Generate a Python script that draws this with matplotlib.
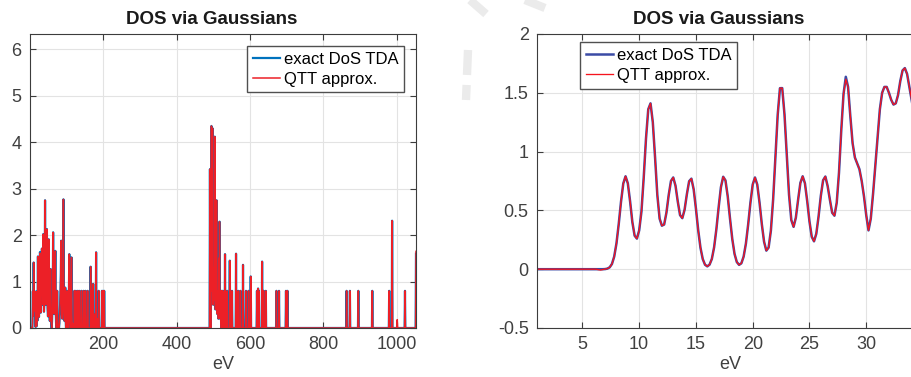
import numpy as np
import matplotlib
matplotlib.use("Agg")
import matplotlib.pyplot as plt
from matplotlib.lines import Line2D

# Colours
EXACT_LEFT = "#0072BD"
QTT_LEFT = "#EC2027"
EXACT_RIGHT = "#3B4BA5"
QTT_RIGHT = "#F5141E"
GRID_COLOR = "#E3E3E3"
AXIS_COLOR = "#3C3C3C"
TEXT_COLOR = "#404040"

FONT = "Liberation Sans"
DPI = 100

# DOS on the fine grid (1 .. 35 eV, 0.2 eV step)
fine_ev = np.round(np.arange(1.0, 35.01, 0.2), 1)
dos_exact_fine = [0.0] * 30 + [
    0.001, 0.005, 0.016, 0.044, 0.107, 0.220, 0.385, 0.574, 0.729, 0.790,
    0.730, 0.577, 0.400, 0.285, 0.260, 0.330, 0.490, 0.780, 1.110, 1.360,
    1.410, 1.250, 0.950, 0.630, 0.430, 0.370, 0.380, 0.480, 0.630, 0.750,
    0.780, 0.710, 0.575, 0.460, 0.434, 0.506, 0.637, 0.748, 0.770, 0.679,
    0.514, 0.331, 0.182, 0.086, 0.038, 0.024, 0.039, 0.087, 0.186, 0.340,
    0.527, 0.697, 0.786, 0.755, 0.619, 0.431, 0.257, 0.130, 0.061, 0.037,
    0.050, 0.107, 0.217, 0.380, 0.566, 0.720, 0.780, 0.720, 0.567, 0.385,
    0.234, 0.158, 0.184, 0.327, 0.594, 0.953, 1.311, 1.539, 1.540, 1.316,
    0.969, 0.633, 0.418, 0.360, 0.438, 0.591, 0.734, 0.790, 0.731, 0.580,
    0.406, 0.276, 0.237, 0.301, 0.447, 0.624, 0.756, 0.788, 0.707, 0.590,
    0.480, 0.455, 0.565, 0.820, 1.180, 1.490, 1.636, 1.550, 1.300, 1.070,
    0.950, 0.900, 0.850, 0.750, 0.620, 0.460, 0.330, 0.430, 0.640, 0.880,
    1.130, 1.360, 1.500, 1.550, 1.550, 1.500, 1.440, 1.400, 1.410, 1.480,
    1.600, 1.690, 1.710, 1.660, 1.550, 1.440, 1.320, 1.220, 1.150, 1.100,
    1.070,
]
dos_qtt_fine = list(dos_exact_fine)
dos_qtt_fine[27:30] = [-0.004, -0.007, -0.003]
dos_qtt_fine[136] = 1.615

# DOS above 35 eV on a 1 eV grid, only non-zero samples listed
coarse_ev = np.arange(36, 1053)
spike_ev = [
    36, 37, 38, 39, 40, 41, 42, 43, 44, 45, 46, 47, 48, 49, 50, 51, 52, 53,
    54, 55, 56, 57, 58, 59, 61, 62, 63, 64, 65, 66, 67, 68, 69, 70, 71, 72,
    74, 75, 76, 81, 82, 83, 84, 85, 86, 87, 88, 89, 90, 91, 92, 93, 94, 95,
    96, 97, 98, 101, 102, 103, 106, 107, 108, 109, 110, 112, 113, 114, 115,
    117, 122, 126, 131, 135, 141, 147, 152, 158, 166, 170, 173, 176, 181,
    184, 188, 197, 198, 200, 201, 203,
    491, 492, 494, 495, 496, 497, 498, 499, 500, 501, 502, 503, 504, 505,
    506, 507, 508, 509, 510, 511, 512, 513, 514, 515, 516, 517, 518, 519,
    520, 521, 523, 524, 526, 527, 532, 538, 545, 551, 562, 568, 574, 581,
    589, 596, 602, 619, 622, 624, 633, 637, 643, 672, 679, 698, 702,
    863, 872, 895, 933, 979, 987, 1001, 1022, 1052,
]
spike_exact = [
    0.50, 2.02, 0.60, 0.35, 0.50, 0.90, 2.75, 0.90, 0.50, 0.60, 1.00, 2.13,
    0.70, 0.40, 0.25, 0.60, 1.91, 0.60, 0.30, 0.15, 0.40, 1.27, 0.35, 0.10,
    0.15, 0.40, 0.80, 2.06, 0.70, 0.40, 0.30, 0.50, 0.80, 1.66, 0.40, 0.10,
    0.20, 0.80, 0.15, 0.10, 0.30, 0.50, 0.80, 1.20, 1.88, 0.60, 0.30, 0.20,
    0.40, 1.00, 2.77, 0.90, 0.30, 0.15, 0.40, 0.87, 0.20, 0.20, 0.80, 0.15,
    0.30, 0.80, 1.59, 0.40, 0.20, 0.40, 0.90, 1.52, 0.30, 0.10, 0.80, 0.80,
    0.80, 0.80, 0.80, 0.80, 0.80, 0.80, 1.32, 0.80, 0.95, 0.30, 1.63, 0.20,
    0.80, 0.80, 0.30, 0.80, 0.30, 0.80,
    3.42, 0.60, 0.90, 4.35, 1.20, 0.80, 4.30, 0.80, 0.50, 0.90, 1.30, 0.60,
    4.12, 0.70, 0.40, 1.00, 0.50, 2.75, 0.60, 0.30, 0.80, 0.40, 0.20, 1.50,
    0.30, 2.29, 0.40, 0.20, 0.80, 0.20, 0.80, 0.30, 0.80, 0.10, 1.59, 0.80,
    1.45, 0.80, 1.60, 0.80, 0.80, 1.36, 0.80, 0.80, 1.11, 0.80, 0.85, 0.80,
    1.43, 0.80, 0.80, 0.80, 0.80, 0.80, 0.80,
    0.80, 0.80, 0.80, 0.80, 0.80, 2.31, 0.00, 0.80, 1.60,
]
spike_qtt = list(spike_exact)
spike_qtt[-3] = 0.18
spike_qtt[-1] = 1.65


def coarse_series(values):
    y = np.zeros(len(coarse_ev))
    y[np.searchsorted(coarse_ev, spike_ev)] = values
    return y


full_ev = np.concatenate([fine_ev, coarse_ev])
full_exact = np.concatenate([dos_exact_fine, coarse_series(spike_exact)])
full_qtt = np.concatenate([dos_qtt_fine, coarse_series(spike_qtt)])

plt.rcParams.update({
    "font.family": FONT,
    "font.size": 13,
    "axes.edgecolor": AXIS_COLOR,
    "axes.linewidth": 0.8,
    "xtick.color": AXIS_COLOR,
    "ytick.color": AXIS_COLOR,
    "xtick.labelcolor": TEXT_COLOR,
    "ytick.labelcolor": TEXT_COLOR,
})

fig = plt.figure(figsize=(912 / DPI, 377 / DPI), dpi=DPI)
ax_l = fig.add_axes([30 / 912, 49 / 377, 386 / 912, 294 / 377])
ax_r = fig.add_axes([537 / 912, 49 / 377, 386 / 912, 294 / 377])


def style_axes(ax):
    ax.grid(True, color=GRID_COLOR, linewidth=0.8)
    ax.set_axisbelow(True)
    ax.tick_params(direction="in", top=True, right=True, length=4, width=0.8,
                   labelsize=13, pad=6)
    ax.set_xlabel("eV", fontsize=13, color=TEXT_COLOR, labelpad=2)
    ax.set_title("DOS via Gaussians", fontsize=13.5, fontweight="bold",
                 color="#1A1A1A", x=0.4715, pad=7)


def add_legend(ax, **kw):
    ax.legend(fontsize=12, frameon=True, fancybox=False, edgecolor="#505050",
              framealpha=1, handlelength=1.6, handletextpad=0.25,
              borderpad=0.35, labelspacing=0.3, borderaxespad=0, **kw)


# --- full energy range ---
ax_l.plot(full_ev, full_exact, color=EXACT_LEFT, linewidth=1.6, label="exact DoS TDA")
ax_l.plot(full_ev, full_qtt, color=QTT_LEFT, linewidth=1.1, label="QTT approx.")
ax_l.set_xlim(1, 1052)
ax_l.set_ylim(0, 6.33)
ax_l.set_xticks([200, 400, 600, 800, 1000])
ax_l.set_yticks([0, 1, 2, 3, 4, 5, 6])
style_axes(ax_l)
add_legend(ax_l, loc="upper right", bbox_to_anchor=(0.97, 0.96))

# --- low-energy window ---
ax_r.plot(fine_ev, dos_exact_fine, color=EXACT_RIGHT, linewidth=1.8, label="exact DoS TDA")
ax_r.plot(fine_ev, dos_qtt_fine, color=QTT_RIGHT, linewidth=0.95, label="QTT approx.")
ax_r.set_xlim(1, 35)
ax_r.set_ylim(-0.5, 2)
ax_r.set_xticks([5, 10, 15, 20, 25, 30])
ax_r.set_yticks([-0.5, 0, 0.5, 1, 1.5, 2])
ax_r.set_yticklabels(["-0.5", "0", "0.5", "1", "1.5", "2"])
style_axes(ax_r)
add_legend(ax_r, loc="upper left", bbox_to_anchor=(0.112, 0.972))

# faint watermark strokes in the top-left of the right panel
for seg in [((468, 50), (466, 100)), ((470, 0), (486, 14)), ((525, 0), (545, 8))]:
    (x0, y0), (x1, y1) = seg
    fig.add_artist(Line2D([x0 / 912, x1 / 912], [1 - y0 / 377, 1 - y1 / 377],
                          transform=fig.transFigure, color="#EBEBEB",
                          linewidth=6, dashes=(3, 1.2), zorder=-1))

fig.savefig("out.png", dpi=DPI)
